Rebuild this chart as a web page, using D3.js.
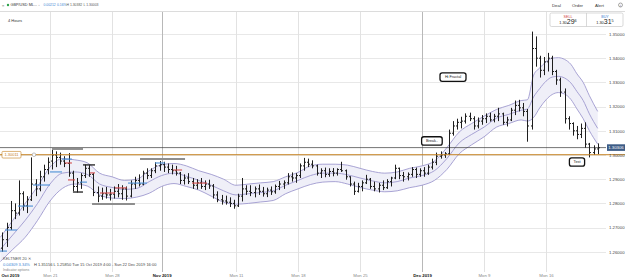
<!DOCTYPE html>
<html><head><meta charset="utf-8">
<script src="https://cdn.jsdelivr.net/npm/d3@7"></script>
<style>
html,body{margin:0;padding:0;background:#fff;overflow:hidden}
svg{display:block;font-family:"Liberation Sans",Arial,sans-serif}
</style></head><body>
<svg id="c" width="625" height="279"></svg>
<script>
// ---------- DATA ----------
// 8-hour OHLC bars, GBP/USD, from Tue 15 Oct 2019 (bar 0) onward, 3 bars per trading day
const barOpen=[1.2615,1.2650,1.2700,1.2770,1.2760,1.2840,1.2790,1.2815,1.2880,1.2860,1.2910,1.2940,
1.2975,1.3000,1.2990,1.2975,1.2965,1.2925,1.2870,1.2885,1.2915,1.2945,1.2920,1.2845,
1.2830,1.2840,1.2835,1.2838,1.2850,1.2840,1.2860,1.2830,1.2880,1.2895,1.2880,1.2925,
1.2915,1.2935,1.2955,1.2960,1.2950,1.2940,1.2935,1.2925,1.2895,1.2905,1.2890,1.2875,
1.2885,1.2870,1.2880,1.2872,1.2835,1.2815,1.2810,1.2805,1.2800,1.2790,1.2830,1.2860,
1.2850,1.2845,1.2860,1.2850,1.2840,1.2855,1.2848,1.2870,1.2880,1.2885,1.2910,1.2905,
1.2915,1.2955,1.2970,1.2962,1.2955,1.2925,1.2935,1.2920,1.2932,1.2925,1.2940,1.2935,
1.2910,1.2880,1.2850,1.2870,1.2885,1.2900,1.2870,1.2860,1.2875,1.2865,1.2890,1.2905,
1.2945,1.2915,1.2910,1.2920,1.2940,1.2920,1.2935,1.2925,1.2950,1.2970,1.2995,1.3000,
1.3005,1.3090,1.3120,1.3135,1.3140,1.3160,1.3150,1.3120,1.3140,1.3150,1.3160,1.3145,
1.3160,1.3170,1.3135,1.3145,1.3185,1.3205,1.3195,1.3180,1.3120,1.3440,1.3400,1.3350,
1.3385,1.3400,1.3345,1.3310,1.3260,1.3150,1.3130,1.3100,1.3085,1.3110,1.3045,1.3010,
1.3025];
const barHigh=[1.2680,1.2720,1.2810,1.2800,1.2895,1.2850,1.2830,1.2990,1.2900,1.2935,1.2960,1.2990,
1.3021,1.3015,1.3010,1.2995,1.3008,1.2935,1.2905,1.2925,1.2960,1.2958,1.2925,1.2870,
1.2865,1.2868,1.2860,1.2870,1.2880,1.2875,1.2870,1.2895,1.2910,1.2920,1.2935,1.2945,
1.2945,1.2970,1.2975,1.2972,1.2965,1.2960,1.2955,1.2930,1.2920,1.2925,1.2905,1.2900,
1.2905,1.2895,1.2898,1.2880,1.2850,1.2835,1.2832,1.2825,1.2815,1.2840,1.2905,1.2875,
1.2875,1.2870,1.2878,1.2868,1.2865,1.2870,1.2878,1.2893,1.2895,1.2925,1.2928,1.2925,
1.2965,1.2988,1.2985,1.2978,1.2960,1.2945,1.2948,1.2945,1.2946,1.2945,1.2972,1.2940,
1.2912,1.2890,1.2885,1.2895,1.2918,1.2905,1.2890,1.2885,1.2895,1.2900,1.2910,1.2960,
1.2948,1.2930,1.2928,1.2950,1.2948,1.2945,1.2950,1.2960,1.2985,1.3010,1.3015,1.3012,
1.3105,1.3140,1.3150,1.3158,1.3172,1.3175,1.3160,1.3155,1.3165,1.3172,1.3175,1.3170,
1.3195,1.3175,1.3158,1.3195,1.3225,1.3228,1.3215,1.3190,1.3510,1.3490,1.3410,1.3405,
1.3422,1.3410,1.3352,1.3320,1.3275,1.3160,1.3135,1.3120,1.3130,1.3135,1.3050,1.3040,
1.3048];
const barLow=[1.2600,1.2620,1.2690,1.2735,1.2750,1.2770,1.2760,1.2810,1.2830,1.2850,1.2890,1.2920,
1.2940,1.2950,1.2960,1.2950,1.2910,1.2850,1.2845,1.2860,1.2905,1.2910,1.2830,1.2805,
1.2815,1.2820,1.2812,1.2820,1.2825,1.2815,1.2812,1.2825,1.2860,1.2870,1.2875,1.2900,
1.2905,1.2925,1.2935,1.2930,1.2925,1.2920,1.2915,1.2880,1.2878,1.2880,1.2860,1.2858,
1.2860,1.2855,1.2860,1.2820,1.2805,1.2795,1.2795,1.2785,1.2778,1.2785,1.2808,1.2835,
1.2830,1.2825,1.2835,1.2828,1.2826,1.2835,1.2840,1.2855,1.2860,1.2878,1.2890,1.2885,
1.2905,1.2935,1.2950,1.2945,1.2915,1.2905,1.2908,1.2910,1.2912,1.2915,1.2930,1.2898,
1.2870,1.2835,1.2845,1.2850,1.2880,1.2860,1.2850,1.2845,1.2855,1.2860,1.2870,1.2900,
1.2900,1.2890,1.2895,1.2910,1.2905,1.2910,1.2910,1.2918,1.2940,1.2958,1.2985,1.2988,
1.3000,1.3080,1.3105,1.3110,1.3130,1.3140,1.3105,1.3110,1.3125,1.3132,1.3138,1.3135,
1.3140,1.3125,1.3118,1.3140,1.3165,1.3180,1.3160,1.3055,1.3105,1.3365,1.3320,1.3330,
1.3345,1.3330,1.3290,1.3240,1.3130,1.3105,1.3080,1.3065,1.3070,1.3030,1.2990,1.3000,
1.3003];
const barClose=[1.2650,1.2700,1.2770,1.2760,1.2840,1.2790,1.2815,1.2880,1.2860,1.2910,1.2940,1.2970,
1.3000,1.2990,1.2975,1.2965,1.2925,1.2870,1.2885,1.2915,1.2945,1.2920,1.2845,1.2830,
1.2840,1.2835,1.2838,1.2850,1.2840,1.2860,1.2830,1.2880,1.2895,1.2880,1.2925,1.2915,
1.2935,1.2955,1.2960,1.2950,1.2940,1.2935,1.2925,1.2895,1.2905,1.2890,1.2875,1.2885,
1.2870,1.2880,1.2872,1.2835,1.2815,1.2810,1.2805,1.2800,1.2790,1.2830,1.2860,1.2850,
1.2845,1.2860,1.2850,1.2840,1.2855,1.2848,1.2870,1.2880,1.2885,1.2910,1.2905,1.2915,
1.2955,1.2970,1.2962,1.2955,1.2925,1.2935,1.2920,1.2932,1.2925,1.2940,1.2935,1.2910,
1.2880,1.2850,1.2870,1.2885,1.2900,1.2870,1.2860,1.2875,1.2865,1.2890,1.2905,1.2945,
1.2915,1.2910,1.2920,1.2940,1.2920,1.2935,1.2925,1.2950,1.2970,1.2995,1.3000,1.3005,
1.3090,1.3120,1.3135,1.3140,1.3160,1.3150,1.3120,1.3140,1.3150,1.3160,1.3145,1.3160,
1.3170,1.3135,1.3145,1.3185,1.3205,1.3195,1.3180,1.3120,1.3440,1.3400,1.3350,1.3385,
1.3400,1.3345,1.3310,1.3260,1.3150,1.3130,1.3100,1.3085,1.3110,1.3045,1.3010,1.3025,
1.3030];
const barsPerDay=3, firstBarDay=1; // trading-day index: Mon 14 Oct 2019 = 0

// Keltner channel (20) at trading-day positions
const bandDay=[1,2,3,4,5,6,7,8,9,10,11,12,13,14,15,16,17,18,19,20,21,22,23,24,25,26,27,28,29,30,31,32,33,34,35,36,37,38,39,40,41,42,43,43.5,44,44.5,45,45.5,46,46.5,47,47.5,48,48.5,49.17];
const bandUpper=[1.2660,1.2730,1.2800,1.2870,1.2950,1.2985,1.2980,1.2968,1.2925,1.2910,1.2895,1.2900,1.2935,1.2960,1.2965,1.2955,1.2935,1.2920,1.2900,1.2875,1.2880,1.2885,1.2890,1.2910,1.2928,1.2955,1.2962,1.2962,1.2958,1.2945,1.2932,1.2925,1.2930,1.2945,1.2955,1.2975,1.3030,1.3095,1.3130,1.3160,1.3188,1.3205,1.3225,1.3228,1.3330,1.3360,1.3385,1.3400,1.3402,1.3395,1.3375,1.3335,1.3300,1.3245,1.3180];
const bandMiddle=[1.2610,1.2670,1.2730,1.2800,1.2880,1.2925,1.2930,1.2920,1.2880,1.2866,1.2858,1.2862,1.2890,1.2915,1.2925,1.2912,1.2895,1.2875,1.2852,1.2835,1.2840,1.2845,1.2852,1.2875,1.2895,1.2915,1.2925,1.2925,1.2918,1.2905,1.2893,1.2885,1.2890,1.2905,1.2915,1.2935,1.2985,1.3050,1.3085,1.3115,1.3152,1.3168,1.3185,1.3190,1.3240,1.3275,1.3305,1.3322,1.3325,1.3318,1.3298,1.3262,1.3225,1.3170,1.3110];
const bandLower=[1.2560,1.2610,1.2660,1.2730,1.2810,1.2862,1.2880,1.2872,1.2835,1.2822,1.2820,1.2826,1.2842,1.2870,1.2882,1.2870,1.2855,1.2830,1.2805,1.2797,1.2800,1.2806,1.2812,1.2840,1.2860,1.2878,1.2888,1.2890,1.2880,1.2866,1.2855,1.2848,1.2852,1.2865,1.2875,1.2895,1.2940,1.3005,1.3042,1.3075,1.3115,1.3130,1.3145,1.3140,1.3155,1.3195,1.3228,1.3250,1.3258,1.3252,1.3230,1.3190,1.3150,1.3100,1.3045];

// short horizontal levels: [startDay, endDay, price]
const blueLevels=[[0.97,1.53,1.2603],[1.37,2.34,1.2690],[2.42,3.63,1.2789],[3.63,5.0,1.2876],[5.0,5.97,1.2930],[5.97,6.77,1.2983],[7.42,7.98,1.2888],[11.29,12.82,1.2884],[13.47,14.27,1.2967]];
const redLevels=[[6.21,6.77,1.2967],[6.45,7.02,1.2897],[8.23,8.63,1.2926],[9.03,10.24,1.2843],[10.24,11.2,1.2864],[14.92,15.65,1.2938],[16.45,17.66,1.2884]];
const grayLevels=[[5.16,7.66,1.3025],[8.39,11.85,1.2798],[12.26,15.89,1.2983]];
const blackLevels=[[7.66,8.63,1.2959],[6.85,7.66,1.2847]];

const alertLevel=1.30011, lastPrice=1.30306;
const notes=[{text:"Hi Fractal",day:37.5,price:1.3322},{text:"Break..",day:35.8,price:1.3058},{text:"Test",day:47.5,price:1.2971}];

const yTicks=[1.26,1.27,1.28,1.29,1.30,1.31,1.32,1.33,1.34,1.35];
const xTickDays=[1.77,5,10,14,20,25,30,35,40,45];
const xTickLabels=["Oct 2019","Mon 21","Mon 28","Nov 2019","Mon 11","Mon 18","Mon 25","Dec 2019","Mon 9","Mon 16"];
const monthTicks=["Oct 2019","Nov 2019","Dec 2019"];

// ---------- LAYOUT ----------
const plotL=0, plotR=606, plotT=12, plotB=272;
const x=d3.scaleLinear().domain([0,50]).range([-12,608]);
const y=d3.scaleLinear().domain([1.26,1.35]).range([251.8,34]);
const svg=d3.select('#c');
svg.append('defs').append('clipPath').attr('id','clip')
  .append('rect').attr('x',plotL).attr('y',plotT).attr('width',plotR-plotL).attr('height',plotB-plotT);

// horizontal gridlines
svg.append('g').attr('transform',`translate(${plotR},0)`)
  .call(d3.axisLeft(y).tickValues(yTicks).tickSize(plotR-plotL).tickFormat(''))
  .call(g=>g.select('.domain').remove())
  .call(g=>g.selectAll('line').attr('stroke','#e8e8e8').attr('shape-rendering','crispEdges'));
// vertical gridlines
svg.append('g').attr('transform',`translate(0,${plotB})`)
  .call(d3.axisTop(x).tickValues(xTickDays.slice(1)).tickSize(plotB-plotT).tickFormat(''))
  .call(g=>g.select('.domain').remove())
  .call(g=>g.selectAll('line').attr('stroke',(d,i)=>monthTicks.includes(xTickLabels[i+1])?'#b8b8b8':'#e2e2e2').attr('shape-rendering','crispEdges'));

const plot=svg.append('g').attr('clip-path','url(#clip)');
const band=bandDay.map((d,i)=>({day:d,up:bandUpper[i],mid:bandMiddle[i],lo:bandLower[i]}));
plot.append('path').datum(band).attr('fill','#efeff8')
  .attr('d',d3.area().x(d=>x(d.day)).y0(d=>y(d.lo)).y1(d=>y(d.up)).curve(d3.curveMonotoneX));
['up','mid','lo'].forEach(k=>{
  plot.append('path').datum(band).attr('fill','none').attr('stroke','#9993cc').attr('stroke-width',0.85)
    .attr('d',d3.line().x(d=>x(d.day)).y(d=>y(d[k])).curve(d3.curveMonotoneX));
});

// last price line and alert line (orange)
plot.append('line').attr('x1',plotL).attr('x2',plotR).attr('y1',y(lastPrice)).attr('y2',y(lastPrice))
  .attr('stroke','#3a3a3a').attr('stroke-width',0.7);
svg.append('line').attr('x1',plotL).attr('x2',625).attr('y1',y(alertLevel)).attr('y2',y(alertLevel))
  .attr('stroke','#c5801f').attr('stroke-width',1);

// bars
const bars=barOpen.map((o,i)=>({i,o,h:barHigh[i],l:barLow[i],c:barClose[i],day:firstBarDay+(i+0.5)/barsPerDay}));
plot.append('g').selectAll('path').data(bars).join('path')
  .attr('fill','none').attr('stroke','#1e1e1e').attr('stroke-width',1)
  .attr('d',d=>{const cx=Math.round(x(d.day))+0.5;
    return `M${cx},${y(d.h)}V${y(d.l)}M${cx-1.5},${y(d.o)}H${cx}M${cx},${y(d.c)}H${cx+1.5}`;});

// level segments
function seg(arr,color,w){
  plot.append('g').selectAll('line').data(arr).join('line')
    .attr('x1',d=>x(d[0])).attr('x2',d=>x(d[1])).attr('y1',d=>y(d[2])).attr('y2',d=>y(d[2]))
    .attr('stroke',color).attr('stroke-width',w);
}
seg(grayLevels,'#8e8e8e',2);
seg(blackLevels,'#1e1e1e',1.3);
seg(blueLevels,'#4a8fd6',1.1);
seg(redLevels,'#d24a4a',1.1);

// note boxes
const ng=svg.append('g').selectAll('g').data(notes).join('g')
  .attr('transform',d=>`translate(${x(d.day)},${y(d.price)})`);
ng.append('rect').attr('x',d=>-(d.text.length*0.9+4)).attr('y',-4.2)
  .attr('width',d=>2*(d.text.length*0.9+4)).attr('height',8.4).attr('rx',2.2)
  .attr('fill','#fff').attr('stroke','#111').attr('stroke-width',1.3);
ng.append('text').attr('text-anchor','middle').attr('dy','0.35em').attr('font-size',3.8).attr('fill','#222').text(d=>d.text);

// alert label and handle
const al=svg.append('g').attr('transform',`translate(2,${y(alertLevel)})`);
al.append('rect').attr('x',0).attr('y',-3.3).attr('width',19).attr('height',6.6).attr('fill','#fff').attr('stroke','#c5801f').attr('stroke-width',0.6).attr('rx',1);
al.append('text').attr('x',9.5).attr('dy','0.35em').attr('text-anchor','middle').attr('font-size',4).attr('fill','#c5801f').text(d3.format('.5f')(alertLevel));
svg.append('circle').attr('cx',34).attr('cy',y(alertLevel)).attr('r',1.8).attr('fill','#fff').attr('stroke','#999').attr('stroke-width',0.6);

// right axis
const ya=svg.append('g').attr('transform',`translate(${plotR},0)`)
  .call(d3.axisRight(y).tickValues(yTicks).tickSize(0).tickPadding(3).tickFormat(d3.format('.5f')));
ya.select('.domain').remove();
ya.selectAll('text').attr('font-size',4.3).attr('fill','#444').attr('font-family','"Liberation Sans",Arial,sans-serif');
const lp=svg.append('g').attr('transform',`translate(607,${y(lastPrice)})`);
lp.append('rect').attr('x',0).attr('y',-3.3).attr('width',18).attr('height',6.6).attr('fill','#3d5c86');
lp.append('text').attr('x',9).attr('dy','0.35em').attr('text-anchor','middle').attr('font-size',4.3).attr('fill','#fff').text(d3.format('.5f')(lastPrice));

// bottom axis
const xa=svg.append('g').attr('transform',`translate(0,${plotB+1})`)
  .call(d3.axisBottom(x).tickValues(xTickDays).tickSize(0).tickPadding(1).tickFormat((d,i)=>xTickLabels[i]));
xa.select('.domain').remove();
xa.selectAll('text').attr('font-size',4.3).attr('font-family','"Liberation Sans",Arial,sans-serif')
  .attr('fill',(d,i)=>monthTicks.includes(xTickLabels[i])?'#111':'#888')
  .attr('font-weight',(d,i)=>monthTicks.includes(xTickLabels[i])?'bold':'normal');

// header
svg.append('line').attr('x1',0).attr('x2',625).attr('y1',11.5).attr('y2',11.5).attr('stroke','#dcdcdc');
const hd=svg.append('g').attr('font-size',3.8);
hd.append('text').attr('x',2).attr('y',6.5).attr('fill','#777').text('≡');
hd.append('circle').attr('cx',8).attr('cy',5).attr('r',1.2).attr('fill','#2fa24a');
hd.append('text').attr('x',10.5).attr('y',6.4).attr('fill','#333').text('GBP/USD ML...');
hd.append('text').attr('x',38.5).attr('y',6.4).attr('fill','#999').attr('font-size',3).text('▪');
hd.append('text').attr('x',43.5).attr('y',6.4).attr('fill','#3a86d4').attr('font-size',3.4).text('0.00212');
hd.append('text').attr('x',57).attr('y',6.4).attr('fill','#3a86d4').attr('font-size',3.4).text('0.16%');
hd.append('text').attr('x',66.5).attr('y',6.4).attr('fill','#555').attr('font-size',3.4).text('H 1.30382');
hd.append('text').attr('x',83.5).attr('y',6.4).attr('fill','#555').attr('font-size',3.4).text('L 1.30003');
hd.append('text').attr('x',8).attr('y',21.5).attr('fill','#333').attr('font-size',4).text('4 Hours');
[['Deal',552],['Order',572],['Alert',595]].forEach(([t,px])=>hd.append('text').attr('x',px).attr('y',6.6).attr('fill','#333').attr('font-size',4.3).text(t));
hd.append('circle').attr('cx',620.5).attr('cy',5).attr('r',2).attr('fill','none').attr('stroke','#555').attr('stroke-width',0.5);
hd.append('text').attr('x',620.5).attr('y',6.5).attr('text-anchor','middle').attr('font-size',3.4).attr('fill','#555').text('i');

// sell/buy
const sb=svg.append('g');
sb.append('rect').attr('x',550).attr('y',13).attr('width',73).attr('height',13.5).attr('rx',1.5).attr('fill','#fff').attr('stroke','#c8c8c8').attr('stroke-width',0.7);
sb.append('line').attr('x1',586.5).attr('x2',586.5).attr('y1',13).attr('y2',26.5).attr('stroke','#c8c8c8').attr('stroke-width',0.7);
sb.append('text').attr('x',568).attr('y',17.6).attr('text-anchor','middle').attr('font-size',3.6).attr('fill','#d03a3a').text('SELL');
sb.append('text').attr('x',605).attr('y',17.6).attr('text-anchor','middle').attr('font-size',3.6).attr('fill','#3a7bd0').text('BUY');
function quote(cx,small,big,sup){
  const t=sb.append('text').attr('x',cx).attr('y',24.3).attr('text-anchor','middle').attr('fill','#222');
  t.append('tspan').attr('font-size',3.8).text(small);
  t.append('tspan').attr('font-size',7).text(big);
  t.append('tspan').attr('font-size',3.8).attr('dy',-2.4).text(sup);
}
quote(568,'1.30','29','6');
quote(605,'1.30','31','5');

// legend
const lg=svg.append('g').attr('font-size',4);
lg.append('text').attr('x',3).attr('y',259.5).attr('fill','#555').text('KELTNER  20  ✕');
lg.append('text').attr('x',3).attr('y',266).attr('fill','#3a86d4').text('0.04309   3.34%');
lg.append('text').attr('x',34).attr('y',266).attr('fill','#444').text('H 1.35156   L 1.25850   Tue 15 Oct 2019 4:00 - Sun 22 Dec 2019 16:00');
lg.append('text').attr('x',3).attr('y',271).attr('fill','#888').attr('font-size',3.6).text('Indicator options');
</script>
</body></html>
